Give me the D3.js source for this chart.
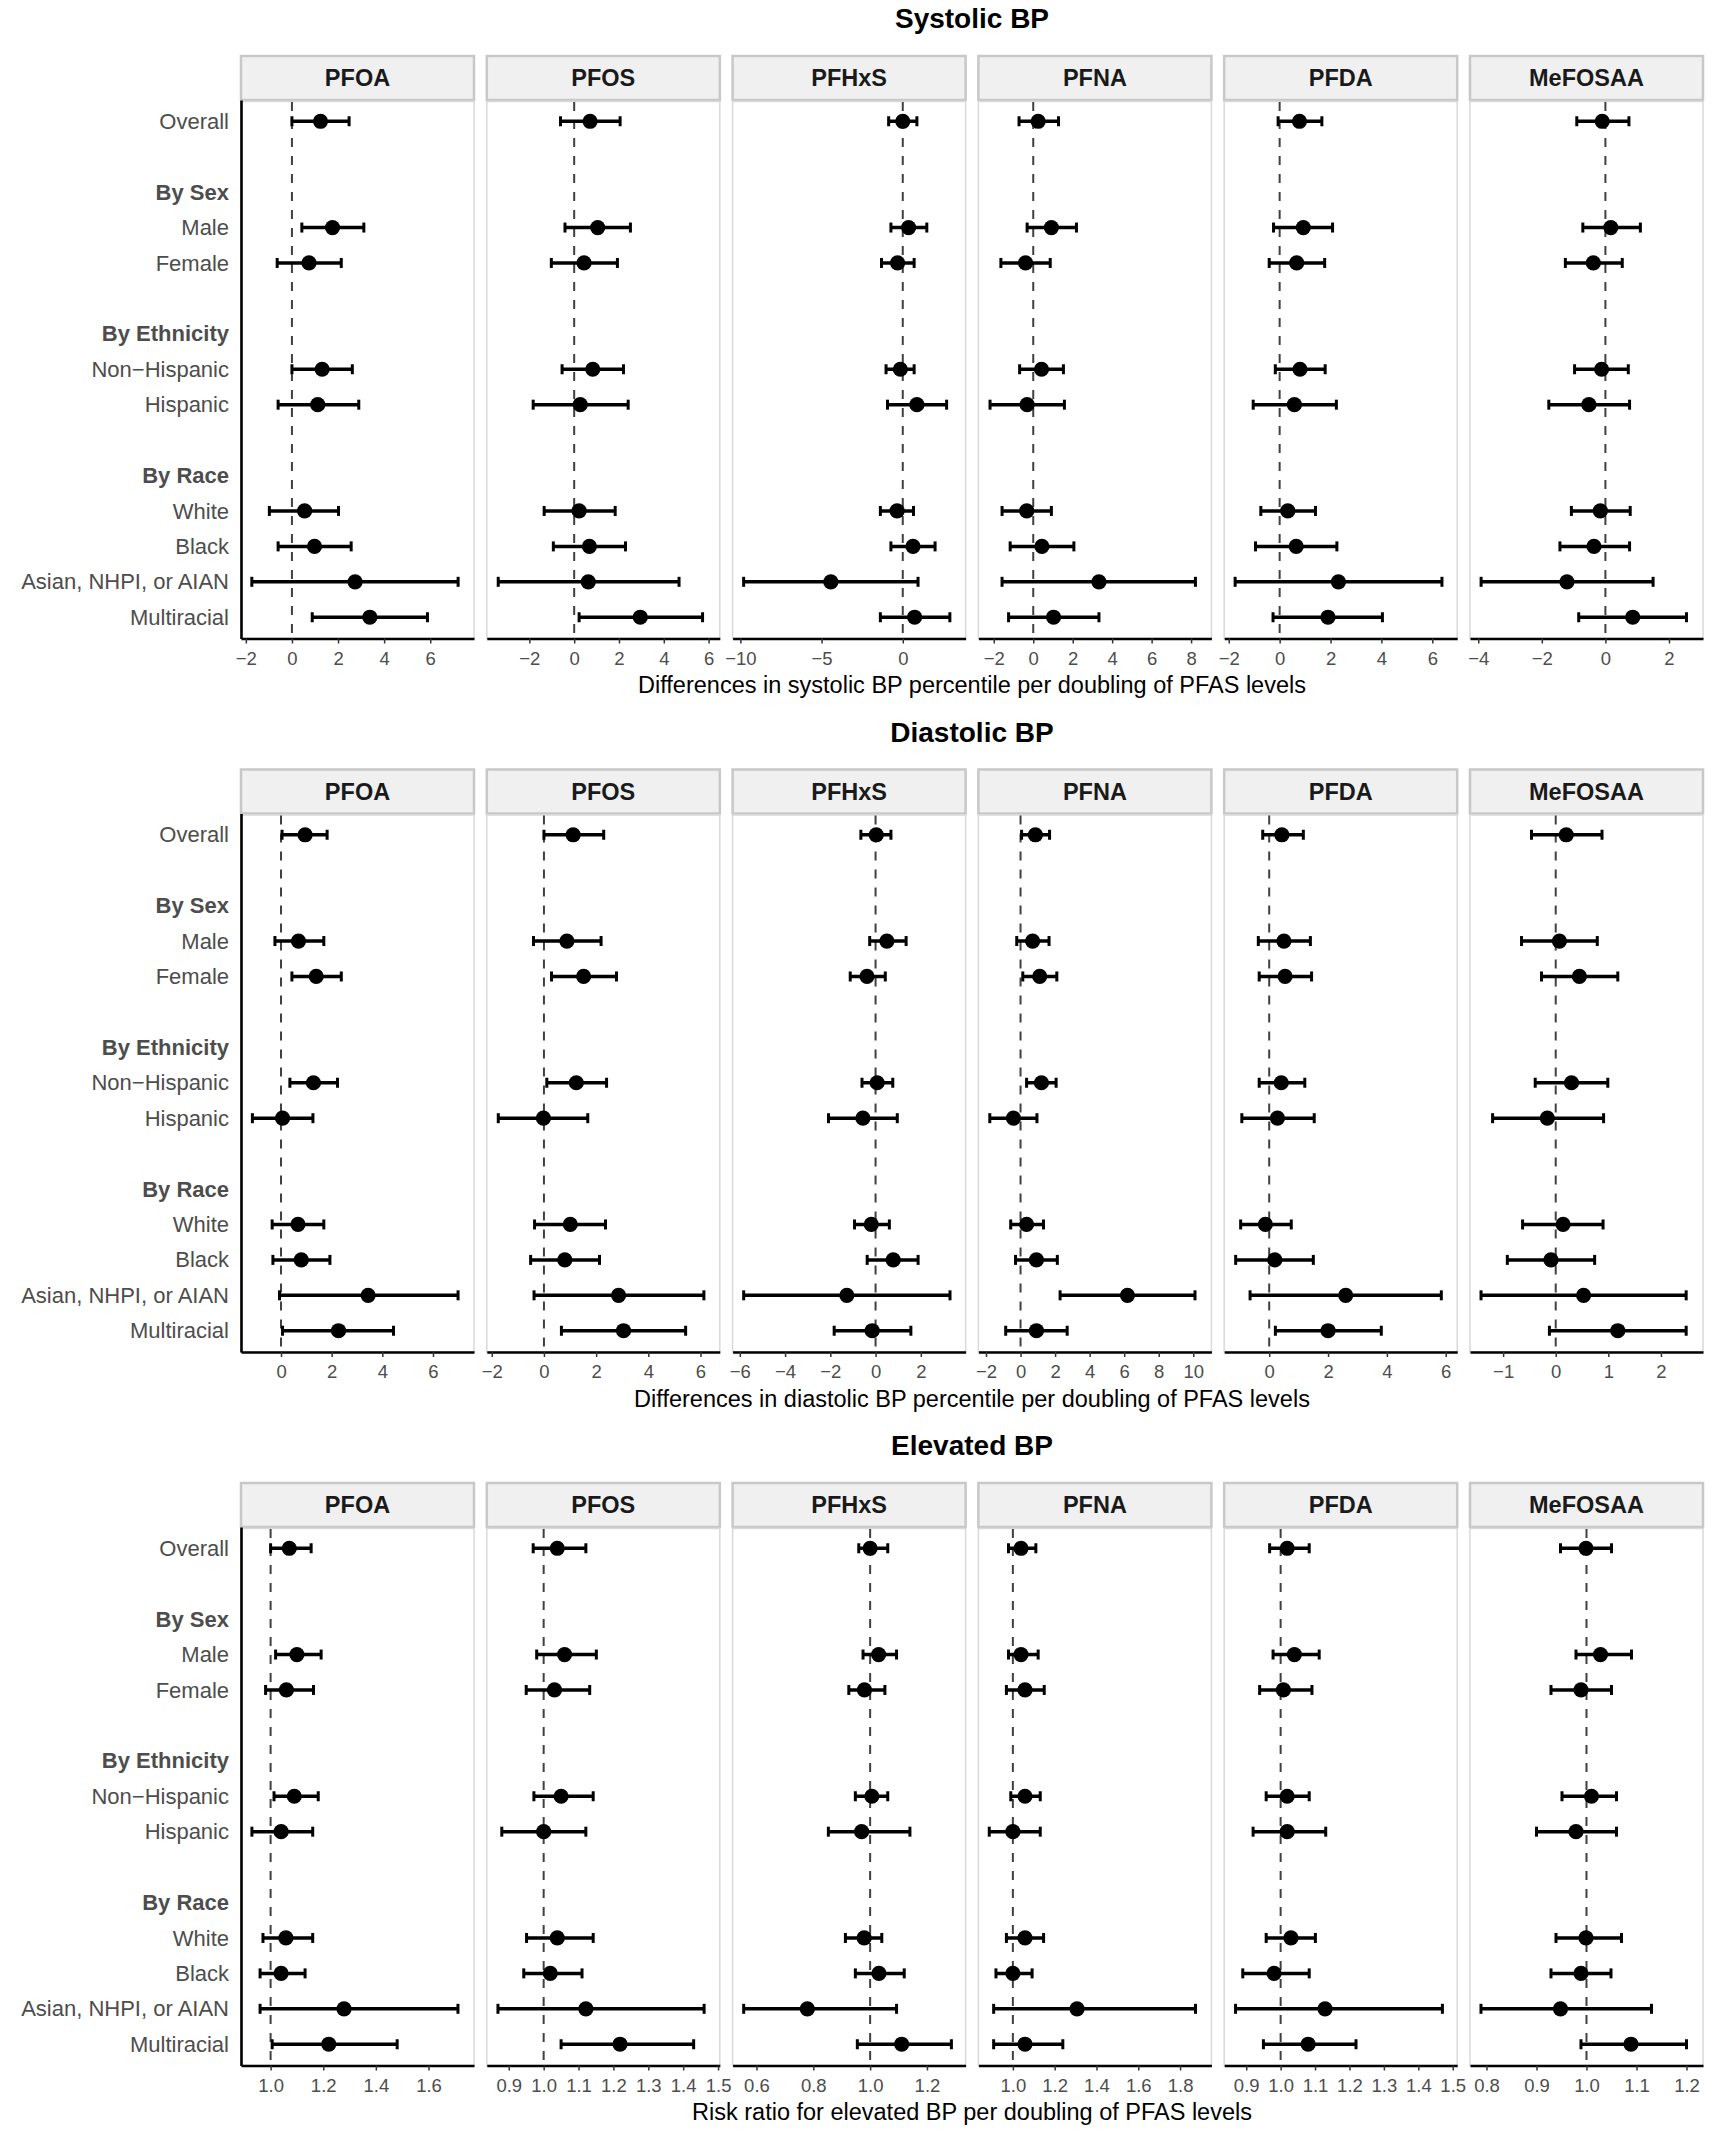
<!DOCTYPE html>
<html>
<head>
<meta charset="utf-8">
<script src="https://cdn.jsdelivr.net/npm/d3@7"></script>
<style>
  body { margin: 0; background: #fff; }
  text { font-family: "Liberation Sans", Arial, Helvetica, sans-serif; }
</style>
</head>
<body>
<svg id="chart" width="1720" height="2144"></svg>
<script>
// ---- data ----
const chemicals = ["PFOA", "PFOS", "PFHxS", "PFNA", "PFDA", "MeFOSAA"];
const rowLabels = ["Overall", "", "By Sex", "Male", "Female", "", "By Ethnicity",
    "Non\u2212Hispanic", "Hispanic", "", "By Race", "White", "Black",
    "Asian, NHPI, or AIAN", "Multiracial"];
const headerRows = [2, 6, 10];
// row index of each subgroup: Overall, Male, Female, Non-Hisp, Hisp, White, Black, Asian.., Multiracial
const subgroupRows = [0, 3, 4, 7, 8, 11, 12, 13, 14];

const sectionTitles = ["Systolic BP", "Diastolic BP", "Elevated BP"];
const axisTitles = [
    "Differences in systolic BP percentile per doubling of PFAS levels",
    "Differences in diastolic BP percentile per doubling of PFAS levels",
    "Risk ratio for elevated BP per doubling of PFAS levels"
];
const refValues = [0, 0, 1];

// Systolic BP percentile differences (one array per chemical, 9 subgroups)
const sbpEst = [
    [1.24, 1.76, 0.74, 1.31, 1.12, 0.55, 0.98, 2.74, 3.38],
    [0.71, 1.05, 0.44, 0.83, 0.27, 0.22, 0.68, 0.63, 2.95],
    [0.0, 0.36, -0.32, -0.15, 0.87, -0.35, 0.63, -4.43, 0.73],
    [0.25, 0.92, -0.39, 0.42, -0.31, -0.33, 0.44, 3.33, 1.03],
    [0.78, 0.93, 0.67, 0.8, 0.58, 0.32, 0.65, 2.31, 1.9],
    [-0.1, 0.17, -0.38, -0.12, -0.52, -0.16, -0.36, -1.21, 0.86]
];
const sbpLo = [
    [0.0, 0.43, -0.64, 0.0, -0.6, -0.98, -0.6, -1.74, 0.88],
    [-0.61, -0.41, -1.02, -0.54, -1.83, -1.34, -0.93, -3.39, 0.22],
    [-0.87, -0.73, -1.31, -1.03, -0.94, -1.38, -0.73, -9.8, -1.38],
    [-0.72, -0.31, -1.64, -0.69, -2.19, -1.58, -1.17, -1.58, -1.25],
    [-0.06, -0.24, -0.41, -0.17, -1.04, -0.74, -0.95, -1.75, -0.26],
    [-0.9, -0.71, -1.26, -0.97, -1.78, -1.07, -1.43, -3.91, -0.84]
];
const sbpHi = [
    [2.48, 3.12, 2.14, 2.62, 2.9, 2.02, 2.57, 7.21, 5.88],
    [2.05, 2.51, 1.93, 2.2, 2.41, 1.83, 2.29, 4.68, 5.73],
    [0.87, 1.48, 0.7, 0.7, 2.7, 0.66, 1.99, 0.94, 2.9],
    [1.28, 2.19, 0.86, 1.53, 1.58, 0.92, 2.06, 8.22, 3.33],
    [1.66, 2.08, 1.77, 1.79, 2.23, 1.41, 2.25, 6.38, 4.04],
    [0.74, 1.1, 0.53, 0.72, 0.76, 0.78, 0.76, 1.5, 2.55]
];
const sbpDomains = [[-2.21, 7.9], [-3.9, 6.5], [-10.48, 3.87], [-2.78, 9.03], [-2.18, 6.98], [-4.26, 3.07]];
const sbpTicks = [[-2, 0, 2, 4, 6], [-2, 0, 2, 4, 6], [-10, -5, 0], [-2, 0, 2, 4, 6, 8], [-2, 0, 2, 4, 6], [-4, -2, 0, 2]];

// Diastolic BP percentile differences
const dbpEst = [
    [0.95, 0.69, 1.39, 1.28, 0.06, 0.67, 0.8, 3.44, 2.27],
    [1.12, 0.88, 1.52, 1.24, -0.02, 1.01, 0.8, 2.86, 3.05],
    [0.03, 0.5, -0.38, 0.07, -0.56, -0.19, 0.78, -1.27, -0.15],
    [0.86, 0.7, 1.11, 1.21, -0.41, 0.35, 0.92, 6.19, 0.92],
    [0.43, 0.5, 0.54, 0.41, 0.28, -0.13, 0.19, 2.6, 2.0],
    [0.2, 0.07, 0.45, 0.3, -0.16, 0.14, -0.09, 0.53, 1.18]
];
const dbpLo = [
    [0.04, -0.24, 0.43, 0.35, -1.13, -0.35, -0.32, -0.06, 0.06],
    [0.0, -0.4, 0.29, 0.11, -1.75, -0.36, -0.51, -0.38, 0.67],
    [-0.65, -0.26, -1.12, -0.6, -2.08, -0.93, -0.37, -5.83, -1.83],
    [0.06, -0.22, 0.13, 0.35, -1.78, -0.57, -0.29, 2.29, -0.86],
    [-0.22, -0.37, -0.34, -0.34, -0.93, -0.97, -1.14, -0.65, 0.21],
    [-0.46, -0.65, -0.27, -0.39, -1.2, -0.63, -0.92, -1.42, -0.12]
];
const dbpHi = [
    [1.82, 1.69, 2.38, 2.23, 1.26, 1.69, 1.93, 6.99, 4.44],
    [2.29, 2.19, 2.78, 2.4, 1.68, 2.36, 2.13, 6.13, 5.43],
    [0.68, 1.35, 0.43, 0.76, 0.96, 0.61, 1.88, 3.29, 1.56],
    [1.68, 1.65, 2.1, 2.06, 0.95, 1.33, 2.13, 10.1, 2.7],
    [1.16, 1.4, 1.44, 1.21, 1.53, 0.75, 1.5, 5.85, 3.81],
    [0.88, 0.79, 1.18, 0.99, 0.91, 0.9, 0.74, 2.48, 2.48]
];
const dbpDomains = [[-1.58, 7.62], [-2.19, 6.74], [-6.32, 3.98], [-2.44, 11.05], [-1.53, 6.39], [-1.63, 2.8]];
const dbpTicks = [[0, 2, 4, 6], [-2, 0, 2, 4, 6], [-6, -4, -2, 0, 2], [-2, 0, 2, 4, 6, 8, 10], [0, 2, 4, 6], [-1, 0, 1, 2]];

// Risk ratios for elevated BP
const ebpEst = [
    [1.071, 1.1, 1.06, 1.09, 1.04, 1.058, 1.04, 1.279, 1.221],
    [1.039, 1.06, 1.031, 1.05, 1.0, 1.039, 1.019, 1.121, 1.219],
    [1.0, 1.03, 0.98, 1.006, 0.97, 0.979, 1.031, 0.779, 1.111],
    [1.039, 1.039, 1.058, 1.058, 1.0, 1.058, 1.0, 1.307, 1.058],
    [1.019, 1.04, 1.008, 1.019, 1.019, 1.03, 0.981, 1.129, 1.08],
    [0.999, 1.028, 0.989, 1.01, 0.979, 0.999, 0.989, 0.948, 1.089]
];
const ebpLo = [
    [1.0, 1.019, 0.981, 1.013, 0.929, 0.971, 0.96, 0.96, 1.006],
    [0.97, 0.98, 0.95, 0.972, 0.88, 0.951, 0.943, 0.869, 1.05],
    [0.96, 0.975, 0.925, 0.948, 0.853, 0.913, 0.948, 0.555, 0.955],
    [0.979, 0.979, 0.969, 0.99, 0.887, 0.969, 0.919, 0.908, 0.908],
    [0.968, 0.978, 0.939, 0.958, 0.92, 0.958, 0.89, 0.869, 0.95],
    [0.948, 0.979, 0.929, 0.951, 0.9, 0.939, 0.929, 0.789, 0.989]
];
const ebpHi = [
    [1.154, 1.192, 1.163, 1.181, 1.16, 1.16, 1.131, 1.712, 1.481],
    [1.121, 1.151, 1.132, 1.142, 1.121, 1.142, 1.11, 1.46, 1.43],
    [1.062, 1.093, 1.052, 1.062, 1.14, 1.041, 1.12, 1.093, 1.286],
    [1.11, 1.121, 1.15, 1.131, 1.131, 1.147, 1.092, 1.874, 1.239],
    [1.083, 1.112, 1.091, 1.083, 1.131, 1.101, 1.083, 1.47, 1.219],
    [1.05, 1.09, 1.05, 1.06, 1.06, 1.07, 1.049, 1.13, 1.2]
];
const ebpDomains = [[0.8875, 1.773], [0.837, 1.505], [0.516, 1.336], [0.835, 1.95], [0.836, 1.513], [0.767, 1.233]];
const ebpTicks = [
    [1.0, 1.2, 1.4, 1.6],
    [0.9, 1.0, 1.1, 1.2, 1.3, 1.4, 1.5],
    [0.6, 0.8, 1.0, 1.2],
    [1.0, 1.2, 1.4, 1.6, 1.8],
    [0.9, 1.0, 1.1, 1.2, 1.3, 1.4, 1.5],
    [0.8, 0.9, 1.0, 1.1, 1.2]
];

const sections = [
    { est: sbpEst, lo: sbpLo, hi: sbpHi, domains: sbpDomains, ticks: sbpTicks, fmt: d3.format("d") },
    { est: dbpEst, lo: dbpLo, hi: dbpHi, domains: dbpDomains, ticks: dbpTicks, fmt: d3.format("d") },
    { est: ebpEst, lo: ebpLo, hi: ebpHi, domains: ebpDomains, ticks: ebpTicks, fmt: d3.format(".1f") }
];

// ---- layout ----
const svg = d3.select("#chart");
const sectionStep = 713.5;
const stripTop = 56, stripBottom = 100, panelBottom = 638.5;
const labelColor = "#4d4d4d";

let xBand = d3.scaleBand().domain(chemicals).range([241, 1703]).paddingInner(0.052);
let rowIds = rowLabels.map(function (d, i) { return "r" + i; });
let yScale = d3.scalePoint().domain(rowIds).range([stripBottom, panelBottom]).padding(0.6);

sections.forEach(function (sec, s) {
    let g = svg.append("g").attr("transform", "translate(0," + (s * sectionStep) + ")");

    // section title
    g.append("text")
        .attr("x", 972)
        .attr("y", 28)
        .attr("text-anchor", "middle")
        .style("font-size", "28px")
        .style("font-weight", "bold")
        .attr("fill", "#000")
        .text(sectionTitles[s]);

    chemicals.forEach(function (chem, c) {
        let x0 = xBand(chem);
        let bw = xBand.bandwidth();
        let xScale = d3.scaleLinear().domain(sec.domains[c]).range([x0, x0 + bw]);

        // strip
        g.append("rect")
            .attr("x", x0).attr("y", stripTop)
            .attr("width", bw).attr("height", stripBottom - stripTop)
            .attr("fill", "#f0f0f0")
            .attr("stroke", "#c8c8c8")
            .attr("stroke-width", 2.5);
        g.append("text")
            .attr("x", x0 + bw / 2)
            .attr("y", (stripTop + stripBottom) / 2 + 8)
            .attr("text-anchor", "middle")
            .style("font-size", "23.5px")
            .style("font-weight", "bold")
            .attr("fill", "#1a1a1a")
            .text(chem);

        // panel border
        g.append("rect")
            .attr("x", x0).attr("y", stripBottom + 1.5)
            .attr("width", bw).attr("height", panelBottom - stripBottom - 1.5)
            .attr("fill", "#fff")
            .attr("stroke", "#d9d9d9")
            .attr("stroke-width", 1.5);

        // reference line
        g.append("line")
            .attr("x1", xScale(refValues[s])).attr("x2", xScale(refValues[s]))
            .attr("y1", stripBottom + 2).attr("y2", panelBottom)
            .attr("stroke", "#404040")
            .attr("stroke-width", 2)
            .attr("stroke-dasharray", "9,9");

        let rows = subgroupRows.map(function (r, i) {
            return { y: yScale("r" + r), est: sec.est[c][i], lo: sec.lo[c][i], hi: sec.hi[c][i] };
        });

        let marks = g.append("g");
        marks.selectAll(".bar").data(rows).enter().append("line")
            .attr("x1", function (d) { return xScale(d.lo); })
            .attr("x2", function (d) { return xScale(d.hi); })
            .attr("y1", function (d) { return d.y; })
            .attr("y2", function (d) { return d.y; })
            .attr("stroke", "#000").attr("stroke-width", 3.5);
        ["lo", "hi"].forEach(function (k) {
            marks.selectAll(".cap-" + k).data(rows).enter().append("line")
                .attr("x1", function (d) { return xScale(d[k]); })
                .attr("x2", function (d) { return xScale(d[k]); })
                .attr("y1", function (d) { return d.y - 5; })
                .attr("y2", function (d) { return d.y + 5; })
                .attr("stroke", "#000").attr("stroke-width", 3);
        });
        marks.selectAll("circle").data(rows).enter().append("circle")
            .attr("cx", function (d) { return xScale(d.est); })
            .attr("cy", function (d) { return d.y; })
            .attr("r", 7.6)
            .attr("fill", "#000");

        // x axis
        let xAxis = d3.axisBottom(xScale)
            .tickValues(sec.ticks[c])
            .tickFormat(sec.fmt)
            .tickSize(5)
            .tickSizeOuter(0)
            .tickPadding(8);
        let ax = g.append("g")
            .attr("transform", "translate(0," + panelBottom + ")")
            .call(xAxis);
        ax.select(".domain").attr("stroke", "#000").attr("stroke-width", 2.6);
        ax.selectAll(".tick line").attr("stroke", "#333").attr("stroke-width", 1.5);
        ax.selectAll(".tick text")
            .style("font-size", "18.5px")
            .style("font-family", "'Liberation Sans', Arial, sans-serif")
            .attr("fill", labelColor);
    });

    // y axis with row labels
    let yAxis = d3.axisLeft(yScale)
        .tickSize(0)
        .tickSizeOuter(0)
        .tickPadding(12)
        .tickFormat(function (d, i) { return rowLabels[i]; });
    let ay = g.append("g")
        .attr("transform", "translate(" + xBand(chemicals[0]) + ",0)")
        .call(yAxis);
    ay.select(".domain").attr("stroke", "#000").attr("stroke-width", 2.6);
    ay.selectAll(".tick text")
        .style("font-size", "22px")
        .style("font-family", "'Liberation Sans', Arial, sans-serif")
        .style("font-weight", function (d, i) { return headerRows.indexOf(i) >= 0 ? "bold" : "normal"; })
        .attr("fill", labelColor);

    // x axis title
    g.append("text")
        .attr("x", 972)
        .attr("y", 693)
        .attr("text-anchor", "middle")
        .style("font-size", "23.5px")
        .attr("fill", "#000")
        .text(axisTitles[s]);
});
</script>
</body>
</html>
